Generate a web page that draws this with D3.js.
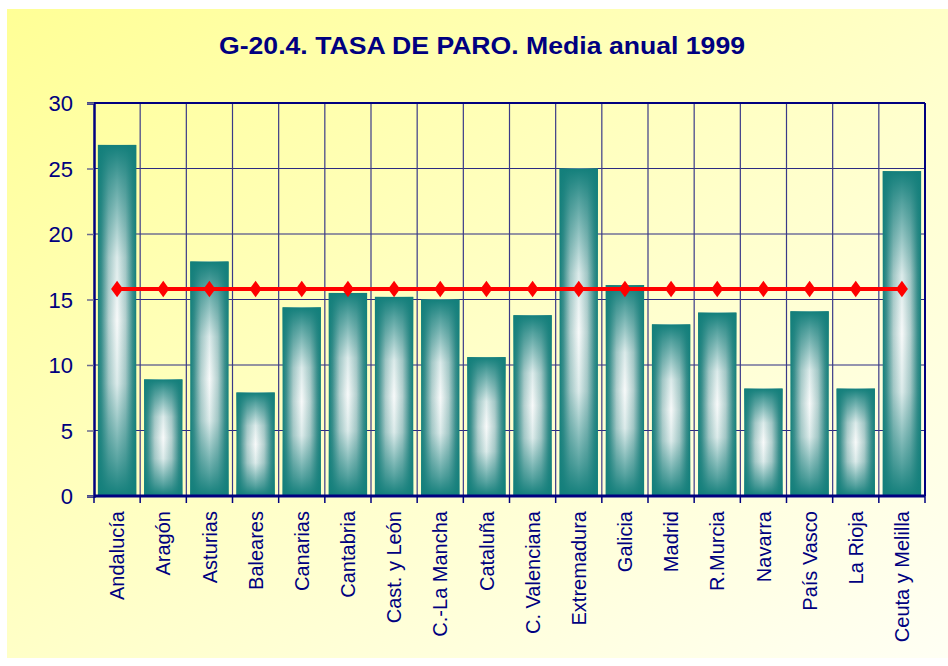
<!DOCTYPE html>
<html>
<head>
<meta charset="utf-8">
<script src="https://cdn.jsdelivr.net/npm/d3@7"></script>
<style>
  body { margin: 0; background: #fff; }
  svg { display: block; }
</style>
</head>
<body>
<div id="chart"></div>
<script>
// datos
var categories = ["Andalucía","Aragón","Asturias","Baleares","Canarias","Cantabria","Cast. y León","C.-La Mancha","Cataluña","C. Valenciana","Extremadura","Galicia","Madrid","R.Murcia","Navarra","País Vasco","La Rioja","Ceuta y Melilla"];
var tasa       = [26.8, 8.9, 17.9, 7.9, 14.4, 15.5, 15.2, 15.0, 10.6, 13.8, 25.0, 16.1, 13.1, 14.0, 8.2, 14.1, 8.2, 24.8];
var media      = [15.8, 15.8, 15.8, 15.8, 15.8, 15.8, 15.8, 15.8, 15.8, 15.8, 15.8, 15.8, 15.8, 15.8, 15.8, 15.8, 15.8, 15.8];
var yTicks     = [0, 5, 10, 15, 20, 25, 30];
var title      = "G-20.4. TASA DE PARO. Media anual 1999";

var W = 948, H = 666;
var plot = {left: 94, right: 925, top: 103, bottom: 496};
var navy = "#000080", teal = "#137f7b";

var svg = d3.select("#chart").append("svg")
	.attr("width", W)
	.attr("height", H)
	.style("font-family", "'Liberation Sans', Arial, sans-serif");

var defs = svg.append("defs");

var bg = defs.append("linearGradient").attr("id", "bg")
	.attr("x1", 0).attr("y1", 0).attr("x2", 1).attr("y2", 1);
bg.append("stop").attr("offset", "0%").attr("stop-color", "#ffff96");
bg.append("stop").attr("offset", "55%").attr("stop-color", "#ffffcc");
bg.append("stop").attr("offset", "100%").attr("stop-color", "#fffff4");

var gh = defs.append("linearGradient").attr("id", "barH")
	.attr("x1", 0).attr("y1", 0).attr("x2", 1).attr("y2", 0);
[[0, teal], [0.1, "#3f918e"], [0.28, "#b4d0cf"], [0.5, "#f8fafa"], [0.72, "#b4d0cf"], [0.9, "#3f918e"], [1, teal]]
	.forEach(function(s){ gh.append("stop").attr("offset", s[0]).attr("stop-color", s[1]); });

var gv = defs.append("linearGradient").attr("id", "barV")
	.attr("x1", 0).attr("y1", 0).attr("x2", 0).attr("y2", 1);
[[0, 1], [0.1, 0.7], [0.32, 0.12], [0.5, 0], [0.68, 0.12], [0.9, 0.7], [1, 1]]
	.forEach(function(s){ gv.append("stop").attr("offset", s[0]).attr("stop-color", teal).attr("stop-opacity", s[1]); });

// fondo
svg.append("rect")
	.attr("x", 7).attr("y", 9)
	.attr("width", W - 7).attr("height", 649)
	.attr("fill", "url(#bg)");

var x = d3.scaleBand()
	.domain(categories)
	.range([plot.left, plot.right])
	.paddingInner(0.17)
	.paddingOuter(0.085);

var y = d3.scaleLinear()
	.domain([0, 30])
	.range([plot.bottom, plot.top]);

var step = x.step();

// rejilla
var grid = svg.append("g");
grid.selectAll("line.h")
	.data(yTicks.slice(1, -1))
	.enter().append("line")
	.attr("x1", plot.left).attr("x2", plot.right)
	.attr("y1", function(d){ return y(d); })
	.attr("y2", function(d){ return y(d); })
	.attr("stroke", "#2b2b82").attr("stroke-width", 1.2);

grid.selectAll("line.v")
	.data(categories.slice(1))
	.enter().append("line")
	.attr("x1", function(d){ return x(d) - (step - x.bandwidth()) / 2; })
	.attr("x2", function(d){ return x(d) - (step - x.bandwidth()) / 2; })
	.attr("y1", plot.top).attr("y2", plot.bottom)
	.attr("stroke", "#3a3a88").attr("stroke-width", 1.2);

// barras
var bars = svg.append("g");
bars.selectAll("rect.b")
	.data(tasa)
	.enter().append("rect")
	.attr("x", function(d, i){ return x(categories[i]); })
	.attr("y", function(d){ return y(d); })
	.attr("width", x.bandwidth())
	.attr("height", function(d){ return y(0) - y(d); })
	.attr("fill", "url(#barH)");
bars.selectAll("rect.o")
	.data(tasa)
	.enter().append("rect")
	.attr("x", function(d, i){ return x(categories[i]); })
	.attr("y", function(d){ return y(d); })
	.attr("width", x.bandwidth())
	.attr("height", function(d){ return y(0) - y(d); })
	.attr("fill", "url(#barV)");

// marco del area
svg.append("line")
	.attr("x1", plot.left).attr("x2", plot.right)
	.attr("y1", plot.top).attr("y2", plot.top)
	.attr("stroke", navy).attr("stroke-width", 2);
svg.append("line")
	.attr("x1", plot.right).attr("x2", plot.right)
	.attr("y1", plot.top).attr("y2", plot.bottom)
	.attr("stroke", navy).attr("stroke-width", 2);

// eje y
var yAxis = svg.append("g")
	.attr("transform", "translate(" + plot.left + ",0)")
	.call(d3.axisLeft(y).tickValues(yTicks).tickSize(7).tickPadding(14));
yAxis.select(".domain").attr("stroke", navy).attr("stroke-width", 2.5);
yAxis.selectAll(".tick line").attr("stroke", "#6a6a90").attr("stroke-width", 1.5);
yAxis.selectAll(".tick text")
	.attr("fill", navy)
	.style("font-size", "22px")
	.attr("dy", "0.36em");

// eje x
var xAxis = svg.append("g")
	.attr("transform", "translate(0," + plot.bottom + ")");
xAxis.append("line")
	.attr("x1", plot.left).attr("x2", plot.right)
	.attr("stroke", navy).attr("stroke-width", 3);
xAxis.selectAll("line.t")
	.data(d3.range(categories.length + 1))
	.enter().append("line")
	.attr("x1", function(i){ return plot.left + i * step; })
	.attr("x2", function(i){ return plot.left + i * step; })
	.attr("y1", 0).attr("y2", 7)
	.attr("stroke", navy).attr("stroke-width", 1.5);
xAxis.selectAll("text")
	.data(categories)
	.enter().append("text")
	.attr("transform", function(d){
		return "translate(" + (x(d) + x.bandwidth() / 2) + ",15) rotate(-90)";
	})
	.attr("text-anchor", "end")
	.attr("dy", "0.36em")
	.attr("fill", navy)
	.style("font-size", "20px")
	.text(function(d){ return d; });

// linea de la media nacional
var line = d3.line()
	.x(function(d, i){ return x(categories[i]) + x.bandwidth() / 2; })
	.y(function(d){ return y(d); });
svg.append("path")
	.datum(media)
	.attr("d", line)
	.attr("fill", "none")
	.attr("stroke", "#ff0000")
	.attr("stroke-width", 4);
svg.selectAll("path.dm")
	.data(media)
	.enter().append("path")
	.attr("d", d3.symbol().type(d3.symbolDiamond).size(80))
	.attr("transform", function(d, i){
		return "translate(" + (x(categories[i]) + x.bandwidth() / 2) + "," + y(d) + ") scale(1.25,1)";
	})
	.attr("fill", "#ff0000");

// titulo
svg.append("text")
	.attr("x", 482).attr("y", 54)
	.attr("text-anchor", "middle")
	.attr("fill", navy)
	.style("font-size", "24px")
	.style("font-weight", "bold")
	.attr("textLength", 526)
	.attr("lengthAdjust", "spacingAndGlyphs")
	.text(title);
</script>
</body>
</html>
